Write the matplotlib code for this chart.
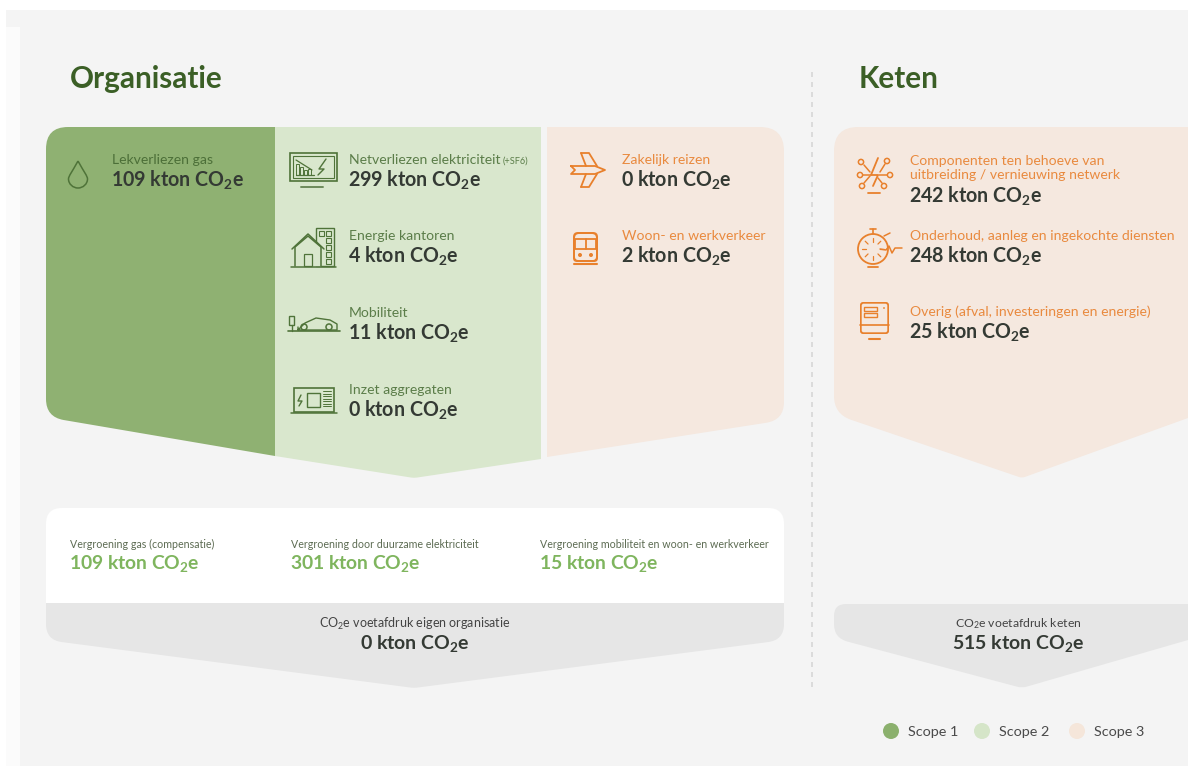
import matplotlib
matplotlib.use("Agg")
import matplotlib.pyplot as plt
from matplotlib.path import Path
from matplotlib.patches import PathPatch, Rectangle, Circle
import numpy as np

plt.rcParams['font.family'] = ['Lato', 'DejaVu Sans']
plt.rcParams['mathtext.default'] = 'regular'

UNIT = " kton CO$_2$e"

# Scope kolommen: labels en waarden
scope1_labels = ["Lekverliezen gas"]
scope1_values = [109]
scope2_labels = ["Netverliezen elektriciteit", "Energie kantoren", "Mobiliteit", "Inzet aggregaten"]
scope2_values = [299, 4, 11, 0]
scope3_labels = ["Zakelijk reizen", "Woon- en werkverkeer"]
scope3_values = [0, 2]
keten_labels = ["Componenten ten behoeve van\nuitbreiding / vernieuwing netwerk",
                "Onderhoud, aanleg en ingekochte diensten",
                "Overig (afval, investeringen en energie)"]
keten_values = [242, 248, 25]
groen_labels = ["Vergroening gas (compensatie)", "Vergroening door duurzame elektriciteit",
                "Vergroening mobiliteit en woon- en werkverkeer"]
groen_values = [109, 301, 15]
totaal_org = 0
totaal_keten = 515
legend_labels = ["Scope 1", "Scope 2", "Scope 3"]

C1 = "#8fb172"
C2 = "#d9e7cd"
C3 = "#f5e8df"
GREY = "#e6e6e6"
BG = "#f4f4f4"
TITLE = "#3b5f26"
DARK = "#343a34"
LAB1 = "#4c6f38"
LAB2 = "#5b7d49"
ORANGE = "#e98a3f"
ICON_O = "#e8802c"
ICON_G = "#4f7339"
VAL_G = "#7fb55e"

fig = plt.figure(figsize=(11.88, 7.66), dpi=100, facecolor="white")
ax = fig.add_axes([0, 0, 1, 1])
ax.set_xlim(0, 1188)
ax.set_ylim(766, 0)
ax.axis("off")


def rounded(points, color, z=2):
    # points: (x, y, radius)
    n = len(points)
    verts, codes = [], []
    for i in range(n):
        p = np.array(points[i][:2], float)
        r = points[i][2]
        a = np.array(points[i - 1][:2], float)
        b = np.array(points[(i + 1) % n][:2], float)
        if r == 0:
            verts.append(p)
            codes.append(Path.MOVETO if i == 0 else Path.LINETO)
        else:
            p1 = p + (a - p) / np.linalg.norm(a - p) * r
            p2 = p + (b - p) / np.linalg.norm(b - p) * r
            verts.append(p1)
            codes.append(Path.MOVETO if i == 0 else Path.LINETO)
            verts += [p, p2]
            codes += [Path.CURVE3, Path.CURVE3]
    verts.append(verts[0])
    codes.append(Path.CLOSEPOLY)
    ax.add_patch(PathPatch(Path(verts, codes), fc=color, ec="none", lw=0, zorder=z))


def line(xs, ys, c, lw=1.2, z=5):
    ax.plot(xs, ys, color=c, lw=lw, solid_capstyle="round", solid_joinstyle="round", zorder=z)


def box(x, y, w, h, c, lw=1.2, fc="none"):
    ax.add_patch(Rectangle((x, y), w, h, fc=fc, ec=c, lw=lw, zorder=5))


def ring(x, y, r, c, lw=1.1):
    ax.add_patch(Circle((x, y), r, fc="none", ec=c, lw=lw, zorder=5))


def item(x, y, label, value, lab_c, size=10.1):
    n = label.count("\n")
    ax.text(x, y + 1, label, color=lab_c, fontsize=size, va="center", ha="left",
            linespacing=1.25, zorder=6)
    ax.text(x - 1, y + 21 + n * 8, str(value) + UNIT, color=DARK, fontsize=14.1, fontweight="bold",
            va="center", ha="left", zorder=6)


# achtergrond
ax.add_patch(Rectangle((6, 10), 1182, 756, fc=BG, ec="none", zorder=0))
ax.add_patch(Rectangle((6, 27), 14, 739, fc="#fbfbfb", ec="none", zorder=0))

# titels
ax.text(70, 79, "Organisatie", color=TITLE, fontsize=21.4, fontweight="bold", va="center", ha="left")
ax.text(859, 79, "Keten", color=TITLE, fontsize=21.4, fontweight="bold", va="center", ha="left")

# scheidingslijn
ax.plot([812, 812], [72, 690], color="#d6d6d6", lw=1.2, ls=(0, (3, 3)), zorder=1)

# kolommen
rounded([(275, 127, 0), (541, 127, 0), (541, 459, 0), (414, 478, 3), (275, 456, 0)], C2)
rounded([(46, 127, 22), (275, 127, 0), (275, 456, 0), (46, 417, 18)], C1)
rounded([(547, 127, 0), (784, 127, 24), (784, 420, 18), (547, 457, 0)], C3)
rounded([(834, 127, 24), (1188, 127, 0), (1188, 418, 0), (1022, 478, 3), (834, 414, 18)], C3)

# vergroening en totalen
rounded([(46, 508, 16), (784, 508, 16), (784, 603, 0), (46, 603, 0)], "white")
rounded([(46, 603, 0), (784, 603, 0), (784, 640, 16), (414, 688, 3), (46, 640, 16)], GREY)
rounded([(834, 604, 12), (1188, 604, 0), (1188, 640, 0), (1022, 688, 5), (834, 638, 14)], GREY)

# teksten scope 1
item(112, 159, scope1_labels[0], scope1_values[0], LAB1)

# scope 2
for lab, val, y in zip(scope2_labels, scope2_values, [159, 235, 312, 389]):
    item(349, y, lab, val, LAB2)
ax.text(503, 161, "(+SF6)", color=LAB2, fontsize=6.6, va="center", ha="left", zorder=6)

# scope 3
for lab, val, y in zip(scope3_labels, scope3_values, [159, 235]):
    item(622, y, lab, val, ORANGE)

# keten
for lab, val, y in zip(keten_labels, keten_values, [167, 235, 311]):
    item(910, y, lab, val, ORANGE)

# vergroening teksten
for lab, val, x in zip(groen_labels, groen_values, [70, 291, 540]):
    ax.text(x, 544, lab, color="#5c6b52", fontsize=7.7, va="center", ha="left", zorder=6)
    ax.text(x - 1, 563, str(val) + UNIT, color=VAL_G, fontsize=13.9, fontweight="bold",
            va="center", ha="left", zorder=6)

# totalen
ax.text(415, 623.5, "CO$_2$e voetafdruk eigen organisatie", color="#444444", fontsize=9,
        va="center", ha="center", zorder=6)
ax.text(415, 643, str(totaal_org) + UNIT, color=DARK, fontsize=14, fontweight="bold",
        va="center", ha="center", zorder=6)
ax.text(1018, 623.5, "CO$_2$e voetafdruk keten", color="#444444", fontsize=8.8,
        va="center", ha="center", zorder=6)
ax.text(1018, 643, str(totaal_keten) + UNIT, color=DARK, fontsize=14, fontweight="bold",
        va="center", ha="center", zorder=6)

# legenda
for lab, c, cx in zip(legend_labels, ["#8bb06d", "#d5e5c8", "#f5e6da"], [891, 982, 1077]):
    ax.add_patch(Circle((cx, 731), 8, fc=c, ec="none", zorder=5))
    ax.text(cx + 17, 732, lab, color="#4a4a4a", fontsize=10.4, va="center", ha="left", zorder=6)

# --- iconen ---
# druppel
t = Path([(78, 161), (72, 172), (68.5, 176), (68.5, 179), (68.5, 184), (73, 188), (78, 188),
          (83, 188), (87.5, 184), (87.5, 179), (87.5, 176), (84, 172), (78, 161)],
         [Path.MOVETO] + [Path.CURVE4] * 12)
ax.add_patch(PathPatch(t, fc="none", ec=ICON_G, lw=1.1, zorder=5))

# monitor
box(290, 153, 47, 28, ICON_G)
box(293, 156, 41, 22, ICON_G, lw=0.8)
line([301, 323], [187, 187], "#6d8a5a", 1.4)
line([296, 312], [160, 170], ICON_G, 0.9)
for bx, bh in zip([296, 300, 304, 308], [11, 8, 5, 6]):
    box(bx, 175 - bh, 2.5, bh, ICON_G, lw=0.7)
line([296, 314], [175, 175], ICON_G, 0.9)
line([326, 319, 324, 318], [159, 169, 169, 175], ICON_G, 1)

# huis
box(316, 228, 18, 38, ICON_G, lw=1, fc=C2)
for yy in [231, 238, 245, 252, 259]:
    box(326, yy, 5, 4.5, ICON_G, lw=0.8)
box(319, 231, 5, 4.5, ICON_G, lw=0.8)
ax.fill([295, 295, 308, 321, 321], [266, 247, 236, 247, 266], color=C2, zorder=5)
line([295, 295, 308, 321, 321], [266, 247, 236, 247, 266], ICON_G, 1.1)
line([292, 308, 324], [249, 234, 249], ICON_G, 1.1)
line([291, 336], [266.5, 266.5], ICON_G, 1.1)
box(304, 254, 8, 12, ICON_G, lw=0.9)

# auto
line([288, 340], [331, 331], ICON_G, 1.2)
line([298, 305, 316, 330, 337, 337, 298, 298],
     [330, 323, 318, 320, 324, 330, 330, 327], ICON_G, 1)
ring(304, 327, 3, ICON_G)
ring(329, 327, 3, ICON_G)
box(289, 316, 5, 9, ICON_G, lw=1)
line([291.5, 291.5], [325, 331], ICON_G, 1)

# aggregaat
box(294, 388, 40, 24, ICON_G)
box(307, 393, 13, 14, ICON_G, lw=1)
line([291, 337], [413, 413], ICON_G, 1.1)
line([301, 298, 302, 299], [395, 401, 401, 406], ICON_G, 1)
for yy in np.arange(391, 408, 2.5):
    line([323, 331], [yy, yy], ICON_G, 0.7)

# vliegtuig
line([571, 595, 605, 595, 571, 575, 571, 571],
     [166, 166, 170, 174, 174, 170, 166, 166], ICON_O, 1.3)
line([581, 589, 597], [153, 153, 166], ICON_O, 1.3)
line([581, 586], [153, 166], ICON_O, 1.3)
line([581, 589, 597], [187, 187, 174], ICON_O, 1.3)
line([581, 586], [187, 174], ICON_O, 1.3)

# trein
rounded([(573, 232, 5), (598, 232, 5), (598, 262, 4), (573, 262, 4)], ICON_O, z=4)
rounded([(575, 234, 4), (596, 234, 4), (596, 260, 3), (575, 260, 3)], C3, z=4)
box(575, 239, 21, 10, ICON_O, lw=1.3)
line([585.5, 585.5], [239, 249], ICON_O, 1.3)
ax.add_patch(Circle((580, 255), 2, fc=ICON_O, ec="none", zorder=5))
ax.add_patch(Circle((591, 255), 2, fc=ICON_O, ec="none", zorder=5))
line([574, 597], [264, 264], ICON_O, 1.5)

# netwerk
for cx, cy in [(861, 162), (887, 161), (860, 175), (890, 175), (862, 186), (884, 186)]:
    ring(cx, cy, 2.6, ICON_O, lw=1.1)
line([864, 870], [165, 172], ICON_O, 1.1)
line([885, 880], [164, 172], ICON_O, 1.1)
line([863, 871], [175, 175], ICON_O, 1.1)
line([879, 887], [175, 175], ICON_O, 1.1)
line([864, 870], [183, 176], ICON_O, 1.1)
line([882, 878], [183, 178], ICON_O, 1.1)
line([878, 871, 878, 873], [158, 175, 175, 186], ICON_O, 1.3)
line([868, 880], [193, 193], ICON_O, 1.3)

# stopwatch
ring(873, 249, 15, ICON_O, lw=1.3)
line([873, 873], [229, 234], ICON_O, 1.2)
line([870, 876], [229, 229], ICON_O, 1.2)
line([884, 890], [236, 233], ICON_O, 1.1)
for ang in np.arange(0, 360, 45):
    a = np.deg2rad(ang)
    line([873 + 7 * np.cos(a), 873 + 11 * np.cos(a)], [249 + 7 * np.sin(a), 249 + 11 * np.sin(a)], ICON_O, 0.9)
line([880, 886, 889, 892, 895, 902], [249, 250, 246, 253, 248, 248], ICON_O, 1.1)
line([868, 878], [267, 267], ICON_O, 1.3)

# overig
rounded([(860, 302, 3), (889, 302, 3), (889, 334, 3), (860, 334, 3)], ICON_O, z=4)
rounded([(861.7, 303.7, 2), (887.3, 303.7, 2), (887.3, 332.3, 2), (861.7, 332.3, 2)], C3, z=4)
line([860, 889], [325, 325], ICON_O, 1.2)
box(864, 307, 13, 3.5, ICON_O, lw=1)
box(864, 313, 13, 3.5, ICON_O, lw=1)
ax.add_patch(Circle((884, 308), 0.9, fc=ICON_O, ec="none", zorder=5))
line([869, 880], [339, 339], ICON_O, 1.5)

fig.savefig("out.png", dpi=100, facecolor="white")
